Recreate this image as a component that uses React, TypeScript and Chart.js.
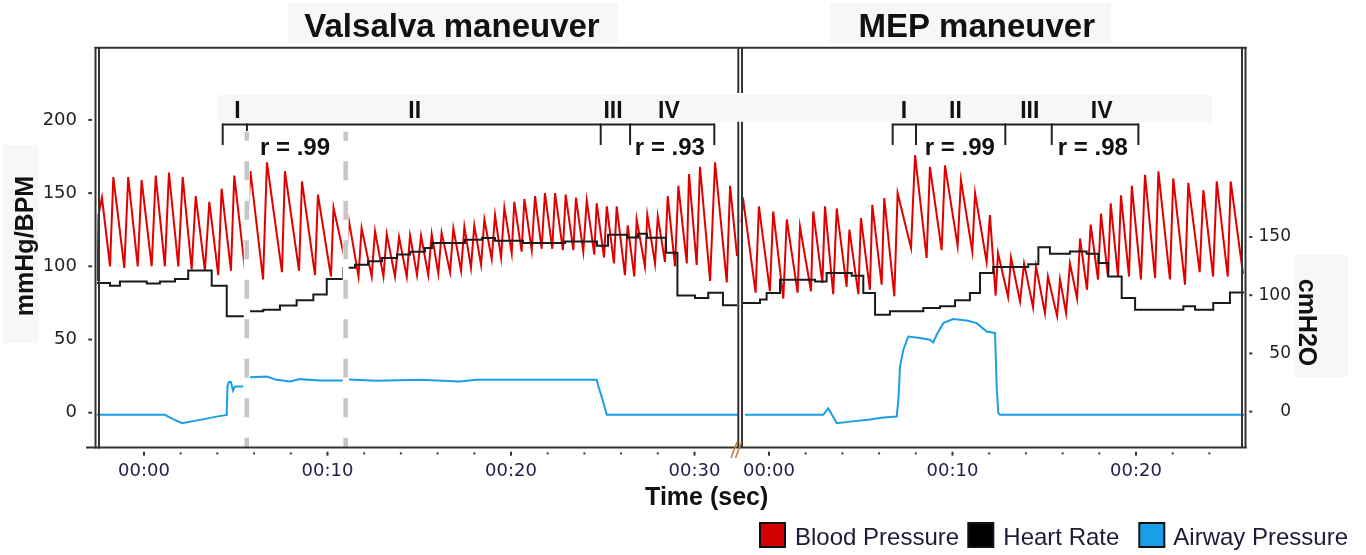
import React, { useEffect, useRef } from 'react';
import { Chart, registerables } from 'chart.js';

Chart.register(...registerables);

// ---- axis / layout constants (seconds on a shared time axis) ----
const X_MIN = -2.56;
const X_MAX = 60.0;
const MEP_OFFSET = 34.06; // shared-axis position of MEP 00:00

const valsalvaTickSeconds = [0, 10, 20, 30];
const mepTickSeconds = [0, 10, 20];
const leftAxisTicks = [0, 50, 100, 150, 200];
const rightAxisTicks = [0, 50, 100, 150];

// ---- Valsalva maneuver (time s, value) ----
const valsalvaBloodPressure: [number, number][] = [
  [-2.53, 90], [-2.48, 135], [-2.29, 147],
  [-1.85, 100], [-1.67, 161], [-1.07, 99], [-0.86, 161],
  [-0.34, 100], [-0.13, 159], [0.42, 100], [0.64, 162],
  [1.14, 100], [1.36, 164], [1.87, 100], [2.11, 161],
  [2.60, 98], [2.82, 148], [3.32, 97], [3.56, 144],
  [4.05, 94], [4.23, 153], [4.74, 97], [4.92, 162],
  [5.50, 98], [5.80, 165], [6.49, 91], [6.70, 171],
  [7.52, 96], [7.68, 165], [8.45, 97], [8.61, 158],
  [9.32, 94], [9.48, 149], [10.19, 93], [10.33, 140],
  [11.01, 101], [11.17, 131], [11.69, 93], [11.86, 126],
  [12.41, 93], [12.59, 124], [13.05, 93], [13.23, 122],
  [13.68, 93], [13.90, 120], [14.32, 93], [14.50, 121],
  [14.88, 94], [15.10, 121], [15.49, 94], [15.68, 122],
  [16.04, 95], [16.22, 123], [16.68, 96], [16.86, 126],
  [17.28, 97], [17.46, 127], [17.82, 99], [18.00, 128],
  [18.37, 101], [18.55, 132], [18.95, 105], [19.13, 135],
  [19.46, 106], [19.64, 140], [20.04, 109], [20.18, 144],
  [20.58, 110], [20.73, 146], [21.13, 111], [21.31, 148],
  [21.67, 112], [21.85, 150], [22.25, 112], [22.40, 150],
  [22.83, 111], [22.98, 149], [23.40, 111], [23.54, 147],
  [23.94, 110], [24.13, 145], [24.54, 108], [24.67, 143],
  [25.07, 106], [25.22, 141], [25.61, 102], [25.76, 141],
  [26.21, 94], [26.36, 128], [26.72, 93], [26.85, 132],
  [27.30, 100], [27.43, 135], [27.85, 102], [28.00, 134],
  [28.39, 103], [28.54, 148], [28.94, 100], [29.12, 155],
  [29.58, 102], [29.70, 163], [30.12, 101], [30.30, 168],
  [30.85, 90], [31.12, 171], [31.76, 89], [31.94, 155],
  [32.32, 107],
];

const valsalvaHeartRate: [number, number | null][] = [
  [-2.56, 88.6], [-1.85, 86.8], [-1.31, 89.7], [0.15, 88.2], [0.87, 89.7],
  [1.69, 91.4], [2.41, 97.2], [3.69, 86.8], [4.51, 65.9], [5.45, 65.9],
  [5.46, null],
  [5.78, 69.3], [6.50, 70.4], [7.41, 73.2], [8.32, 76.8], [9.23, 80.7],
  [9.96, 91.4], [10.86, 98.9], [10.93, 98.9],
  [10.94, null],
  [11.13, 99], [11.50, 101], [12.21, 103.4], [12.97, 105.7], [13.79, 108],
  [14.50, 110], [15.31, 112.5], [15.69, 116], [17.49, 118.2], [18.42, 119.3],
  [19.13, 117.5], [20.65, 116], [22.94, 117], [24.69, 114], [25.29, 121.6],
  [26.32, 119.7], [26.92, 122.3], [27.41, 119.5], [28.45, 109.3], [29.07, 80],
  [30.03, 78.4], [30.75, 82], [31.55, 73.5], [32.32, 73.5],
];

const valsalvaAirwayPressure: [number, number | null][] = [
  [-2.56, -2.8], [1.14, -2.8], [1.53, -6], [2.07, -10], [3.05, -7.1],
  [3.96, -4.3], [4.51, -2.8], [4.55, 22], [4.63, 25.5], [4.74, 25.5],
  [4.85, 18], [4.96, 21.5], [5.41, 21.5],
  [5.42, null],
  [5.78, 29.6], [6.69, 30.1], [7.23, 27.3], [7.96, 25.8], [8.50, 27.9],
  [9.59, 26.7], [10.86, 26.8],
  [10.87, null],
  [11.17, 27.5], [12.68, 26.5], [15.04, 27.3], [17.22, 25.8], [18.13, 27.3],
  [24.67, 27.3], [24.76, 22], [24.94, 12.9], [25.22, -2.8], [32.37, -2.8],
];

// ---- MEP maneuver (time s, value) ----
const mepBloodPressure: [number, number][] = [
  [-1.50, 130], [-1.42, 147], [-0.73, 82], [-0.55, 141],
  [0.05, 83], [0.23, 137.5], [0.78, 78], [0.97, 132],
  [1.56, 82], [1.69, 127], [2.29, 83], [2.41, 137.5],
  [2.91, 88.6], [3.05, 141], [3.50, 81], [3.69, 139.5],
  [4.23, 86], [4.38, 125], [4.87, 81], [5.01, 133],
  [5.50, 84], [5.63, 142], [6.14, 87.5], [6.28, 146.6],
  [6.83, 79.5], [7.01, 150], [7.74, 112.5], [7.96, 176],
  [8.59, 105.7], [8.77, 168], [9.41, 111], [9.59, 169],
  [10.28, 114], [10.46, 159], [11.08, 110], [11.23, 150],
  [11.86, 103], [12.04, 135], [12.35, 80], [12.48, 109],
  [13.03, 79], [13.19, 106], [13.68, 76], [13.90, 102],
  [14.39, 72], [14.55, 100], [15.04, 68], [15.20, 93],
  [15.70, 66], [15.86, 91], [16.19, 68], [16.40, 102],
  [16.79, 78], [16.95, 119], [17.33, 84], [17.53, 128.5],
  [17.93, 91], [18.09, 136], [18.47, 93], [18.62, 143],
  [19.02, 93], [19.18, 148.5], [19.62, 93], [19.77, 155],
  [20.27, 91], [20.49, 162.5], [21.04, 92], [21.22, 164.8],
  [21.85, 91], [22.03, 160], [22.67, 87.5], [22.85, 157],
  [23.47, 96], [23.67, 152], [24.20, 93], [24.40, 158],
  [25.00, 93], [25.16, 158], [25.83, 95],
];

const mepHeartRate: [number, number][] = [
  [-1.50, 75], [-0.49, 77.3], [-0.13, 81.8], [0.60, 90.9], [2.51, 89.7],
  [3.14, 95.5], [4.51, 93.6], [5.14, 81.8], [5.78, 67], [6.59, 69.3],
  [8.41, 71.6], [9.32, 72.7], [10.14, 76.8], [10.95, 81.8], [11.50, 95.5],
  [12.22, 99.5], [14.13, 101.5], [14.68, 113], [15.31, 108.6], [16.40, 110.2],
  [17.31, 108.6], [17.95, 102.3], [18.49, 93.1], [19.22, 78.4], [19.95, 70.4],
  [22.58, 72.7], [23.22, 70.4], [24.21, 75], [25.12, 82.2], [25.89, 82.2],
];

const mepAirwayPressure: [number, number][] = [
  [-1.31, -2.8], [2.96, -2.8], [3.23, 2.9], [3.69, -10], [4.41, -8.6],
  [5.50, -6.8], [6.23, -5], [6.96, -4.3], [7.05, 10], [7.14, 38.7],
  [7.32, 53], [7.59, 64.5], [8.23, 63.2], [8.77, 61.7], [8.95, 59.4],
  [9.14, 66], [9.50, 76], [10.04, 79.5], [10.77, 78.3], [11.32, 76],
  [11.86, 68.8], [12.32, 67.5], [12.41, 20], [12.50, -1.4], [12.59, -2.8],
  [25.89, -2.8],
];

// ---- phase annotations (seconds) ----
const phaseLabels = ['I', 'II', 'III', 'IV'];
const valsalvaPhaseLabelTimes = [5.10, 14.75, 25.56, 28.61];
const mepPhaseLabelTimes = [7.36, 10.16, 14.21, 18.13];
const valsalvaBracketTimes = [4.29, 24.89, 26.49, 31.08];
const valsalvaShortBracketTime = 5.61;
const mepBracketTimes = [6.74, 8.01, 12.88, 15.41, 20.13];
const valsalvaDashedTimes = [5.60, 10.99];
const valsalvaCorrelations = ['r = .99', 'r = .93'];
const valsalvaCorrelationTimes = [8.23, 28.66];
const mepCorrelations = ['r = .99', 'r = .98'];
const mepCorrelationTimes = [10.40, 17.65];

const legendNames = ['Blood Pressure', 'Heart Rate', 'Airway Pressure'];
const COLORS = { bp: '#e00000', hr: '#1a1a1a', ap: '#1a9fe6', bpBox: '#d40000' };

const SANS = '"Liberation Sans", Arial, sans-serif';
const TICK_FONT = '"DejaVu Sans", Verdana, sans-serif';

const toPoints = (rows: [number, number | null][], off = 0) =>
  rows.map(([t, v]) => ({ x: t + off, y: v }));

function drawText(ctx: CanvasRenderingContext2D, s: string, x: number, y: number, font: string,
  color: string, align: CanvasTextAlign = 'center', rot = 0) {
  ctx.save();
  ctx.translate(x, y);
  if (rot) ctx.rotate(rot);
  ctx.font = font;
  ctx.fillStyle = color;
  ctx.textAlign = align;
  ctx.textBaseline = 'alphabetic';
  ctx.fillText(s, 0, 0);
  ctx.restore();
}

function seg(ctx: CanvasRenderingContext2D, x1: number, y1: number, x2: number, y2: number) {
  ctx.beginPath();
  ctx.moveTo(x1, y1);
  ctx.lineTo(x2, y2);
  ctx.stroke();
}

const overlay = {
  id: 'overlay',
  beforeDraw(chart: any) {
    const ctx = chart.ctx as CanvasRenderingContext2D;
    ctx.save();
    ctx.fillStyle = '#ffffff';
    ctx.fillRect(0, 0, chart.width, chart.height);
    ctx.fillStyle = '#f7f7f7';
    ctx.fillRect(288, 3, 330, 40);
    ctx.fillRect(830, 3, 281, 40);
    ctx.fillRect(218, 95, 994, 27);
    ctx.fillRect(3, 145, 35, 198);
    ctx.fillRect(1295, 255, 53, 122);
    ctx.restore();
  },
  afterDatasetsDraw(chart: any) {
    const ctx = chart.ctx as CanvasRenderingContext2D;
    const ca = chart.chartArea;
    const xs = chart.scales.x;
    const yl = chart.scales.y;
    const yr = chart.scales.y2;
    const px = (t: number) => xs.getPixelForValue(t);
    ctx.save();

    // phase boundary dashed lines (Valsalva)
    for (const t of valsalvaDashedTimes) {
      const x = px(t);
      ctx.setLineDash([]);
      ctx.strokeStyle = '#ffffff';
      ctx.lineWidth = 6;
      seg(ctx, x, 131, x, ca.bottom);
      ctx.strokeStyle = '#c6c6c6';
      ctx.lineWidth = 4.5;
      ctx.setLineDash([19, 20.5]);
      ctx.lineDashOffset = 10;
      seg(ctx, x, 131.7, x, ca.bottom);
    }
    ctx.setLineDash([]);
    ctx.lineDashOffset = 0;

    // frame
    ctx.strokeStyle = '#333333';
    ctx.lineWidth = 2;
    seg(ctx, 94.5, 47.8, 1246.7, 47.8);
    seg(ctx, 86, 447.4, 1246.7, 447.4);
    seg(ctx, 95.5, 47, 95.5, 448.5);
    seg(ctx, 99, 47, 99, 448.5);
    seg(ctx, 738.3, 47, 738.3, 93);
    seg(ctx, 742, 47, 742, 93);
    seg(ctx, 738.3, 121.7, 738.3, 448);
    seg(ctx, 742, 121.7, 742, 448);
    seg(ctx, 1242, 47, 1242, 448);
    seg(ctx, 1245.5, 47, 1245.5, 448);

    // axis break marks
    ctx.strokeStyle = '#c97a30';
    ctx.lineWidth = 1.6;
    seg(ctx, 731, 458, 737, 442);
    seg(ctx, 735.5, 458, 741.5, 442);

    // y tick marks
    ctx.strokeStyle = '#333333';
    ctx.lineWidth = 2;
    for (const v of leftAxisTicks) {
      const y = yl.getPixelForValue(v);
      seg(ctx, 88.3, y, 92, y);
    }
    for (const v of rightAxisTicks) {
      const y = yr.getPixelForValue(v);
      seg(ctx, 1249.3, y, 1252.3, y);
    }
    // x tick marks (every 2 s)
    const xTick = (t: number, major: boolean) => {
      const x = px(t);
      seg(ctx, x, major ? 451.7 : 452.4, x, major ? 455.7 : 454.4);
    };
    for (let s = 0; s <= 30; s += 2) xTick(s, s % 10 === 0);
    for (let s = 0; s <= 24; s += 2) xTick(s + MEP_OFFSET, s % 10 === 0);

    // phase brackets
    ctx.strokeStyle = '#222222';
    ctx.lineWidth = 2;
    const by = 124.5;
    seg(ctx, px(valsalvaBracketTimes[0]), by, px(valsalvaBracketTimes[valsalvaBracketTimes.length - 1]), by);
    for (const t of valsalvaBracketTimes) seg(ctx, px(t), by - 1, px(t), 145);
    seg(ctx, px(valsalvaShortBracketTime), by - 1, px(valsalvaShortBracketTime), 131);
    seg(ctx, px(mepBracketTimes[0] + MEP_OFFSET), by, px(mepBracketTimes[mepBracketTimes.length - 1] + MEP_OFFSET), by);
    for (const t of mepBracketTimes) seg(ctx, px(t + MEP_OFFSET), by - 1, px(t + MEP_OFFSET), 145);

    const phaseFont = `bold 23px ${SANS}`;
    valsalvaPhaseLabelTimes.forEach((t, i) => drawText(ctx, phaseLabels[i], px(t), 118, phaseFont, '#111111'));
    mepPhaseLabelTimes.forEach((t, i) => drawText(ctx, phaseLabels[i], px(t + MEP_OFFSET), 118, phaseFont, '#111111'));

    const rFont = `bold 24px ${SANS}`;
    valsalvaCorrelationTimes.forEach((t, i) => drawText(ctx, valsalvaCorrelations[i], px(t), 155, rFont, '#111111'));
    mepCorrelationTimes.forEach((t, i) => drawText(ctx, mepCorrelations[i], px(t + MEP_OFFSET), 155, rFont, '#111111'));

    // titles
    const titleFont = `bold 33px ${SANS}`;
    drawText(ctx, 'Valsalva maneuver', 452, 37, titleFont, '#111111');
    drawText(ctx, 'MEP maneuver', 976.7, 37, titleFont, '#111111');

    // axis titles
    const axisFont = `bold 25px ${SANS}`;
    drawText(ctx, 'mmHg/BPM', 33, 246, axisFont, '#111111', 'center', -Math.PI / 2);
    drawText(ctx, 'cmH2O', 1299, 322.5, axisFont, '#111111', 'center', Math.PI / 2);
    drawText(ctx, 'Time (sec)', 706.7, 505, axisFont, '#111111');

    // legend
    const legendFont = `24px ${SANS}`;
    const boxes = [
      { x: 760, fill: COLORS.bpBox, tx: 795 },
      { x: 968.3, fill: '#000000', tx: 1003.3 },
      { x: 1139.3, fill: COLORS.ap, tx: 1173.3 },
    ];
    boxes.forEach((b, i) => {
      ctx.fillStyle = b.fill;
      ctx.fillRect(b.x, 523, 25, 24);
      ctx.strokeStyle = '#111111';
      ctx.lineWidth = 2;
      ctx.strokeRect(b.x, 523, 25, 24);
      drawText(ctx, legendNames[i], b.tx, 545, legendFont, '#1c1c36', 'left');
    });

    ctx.restore();
  },
};

export default function App() {
  const ref = useRef<HTMLCanvasElement>(null);
  useEffect(() => {
    document.body.style.margin = '0';
    const xTickValues = [
      ...valsalvaTickSeconds,
      ...mepTickSeconds.map((s) => s + MEP_OFFSET),
    ];
    const lineBase = { pointRadius: 0, borderWidth: 2, tension: 0, fill: false, spanGaps: false };
    const chart = new Chart(ref.current as HTMLCanvasElement, {
      type: 'line',
      data: {
        datasets: [
          { ...lineBase, label: 'Heart Rate', data: toPoints(valsalvaHeartRate), borderColor: COLORS.hr, stepped: 'before', yAxisID: 'y' },
          { ...lineBase, label: 'Heart Rate MEP', data: toPoints(mepHeartRate, MEP_OFFSET), borderColor: COLORS.hr, stepped: 'before', yAxisID: 'y' },
          { ...lineBase, label: 'Blood Pressure', data: toPoints(valsalvaBloodPressure), borderColor: COLORS.bp, yAxisID: 'y' },
          { ...lineBase, label: 'Blood Pressure MEP', data: toPoints(mepBloodPressure, MEP_OFFSET), borderColor: COLORS.bp, yAxisID: 'y' },
          { ...lineBase, label: 'Airway Pressure', data: toPoints(valsalvaAirwayPressure), borderColor: COLORS.ap, yAxisID: 'y2' },
          { ...lineBase, label: 'Airway Pressure MEP', data: toPoints(mepAirwayPressure, MEP_OFFSET), borderColor: COLORS.ap, yAxisID: 'y2' },
        ] as any,
      },
      options: {
        animation: false,
        responsive: false,
        maintainAspectRatio: false,
        layout: { padding: { top: 47, left: 0, right: 75, bottom: 0 } },
        plugins: { legend: { display: false }, tooltip: { enabled: false }, title: { display: false } },
        scales: {
          x: {
            type: 'linear',
            min: X_MIN,
            max: X_MAX,
            grid: { display: false, drawTicks: false },
            border: { display: false },
            afterBuildTicks: (s: any) => { s.ticks = xTickValues.map((v) => ({ value: v })); },
            afterFit: (s: any) => { s.height = 108; },
            ticks: {
              autoSkip: false,
              maxRotation: 0,
              minRotation: 0,
              padding: 14,
              color: '#22224a',
              font: { family: TICK_FONT, size: 18 },
              callback: (value: any) => {
                const v = Number(value);
                const t = v > MEP_OFFSET - 3 ? v - MEP_OFFSET : v;
                return '00:' + String(Math.round(t)).padStart(2, '0');
              },
            },
          },
          y: {
            type: 'linear',
            position: 'left',
            min: -23.4,
            max: 249.8,
            grid: { display: false, drawTicks: false },
            border: { display: false },
            afterBuildTicks: (s: any) => { s.ticks = leftAxisTicks.map((v) => ({ value: v })); },
            afterFit: (s: any) => { s.width = 97; },
            ticks: { padding: 20, color: '#222222', font: { family: TICK_FONT, size: 18 } },
          },
          y2: {
            type: 'linear',
            position: 'right',
            min: -30.4,
            max: 313.2,
            grid: { display: false, drawTicks: false },
            border: { display: false },
            afterBuildTicks: (s: any) => { s.ticks = rightAxisTicks.map((v) => ({ value: v })); },
            afterFit: (s: any) => { s.width = 46; },
            ticks: { padding: 13, crossAlign: 'far', color: '#222222', font: { family: TICK_FONT, size: 17 } },
          },
        },
      } as any,
      plugins: [overlay],
    });
    return () => chart.destroy();
  }, []);
  return (
    <canvas ref={ref} width={1366} height={555} style={{ display: 'block', width: 1366, height: 555 }} />
  );
}
